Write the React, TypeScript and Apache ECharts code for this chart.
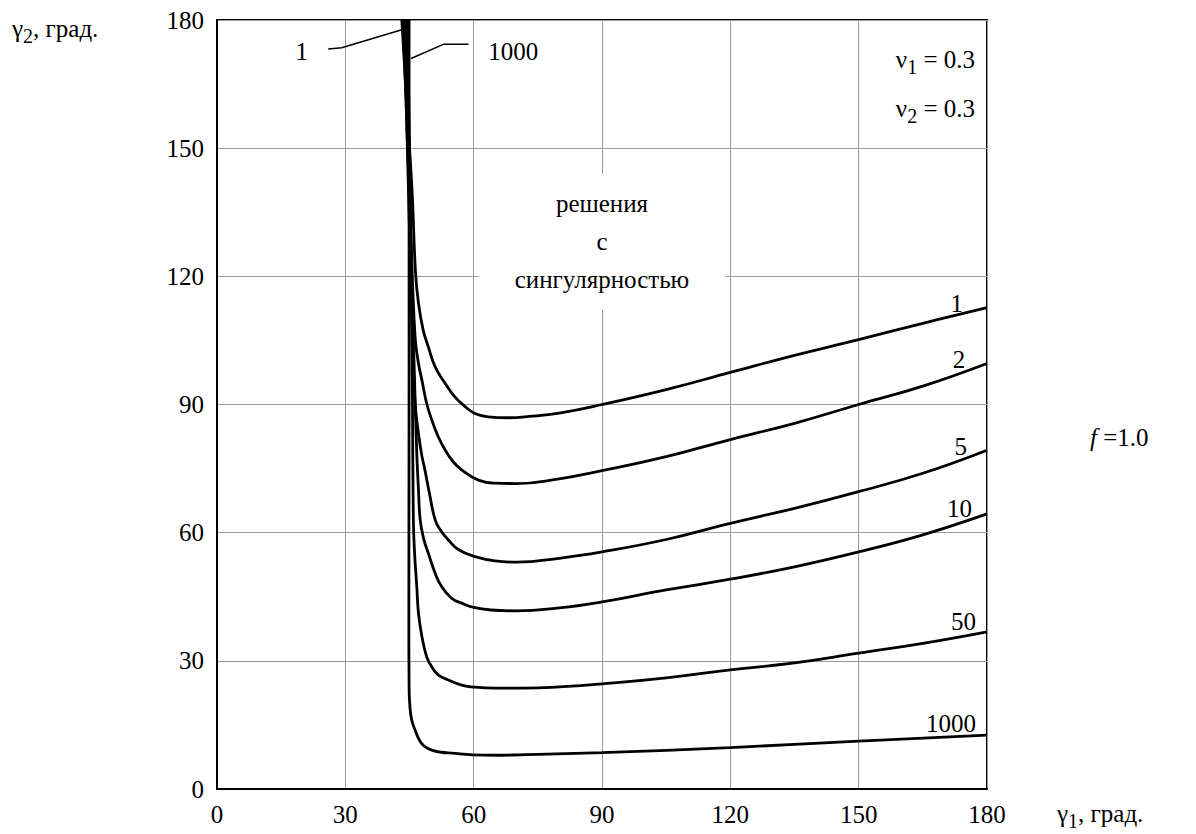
import React, { useEffect, useRef } from "react";
import * as echarts from "echarts";

const xMin = 0;
const xMax = 180;
const yMin = 0;
const yMax = 180;
const tickStep = 30;

const curveNames = ["1", "2", "5", "10", "50", "1000"];

const curve1: number[][] = [
  [43.2, 180], [44.5, 158], [45.6, 140], [46.4, 121], [47.1, 113.7], [48.2, 107.4],
  [49.4, 103.5], [51, 98.8], [53.3, 95.0], [55.6, 91.8], [58, 89.5], [60.3, 87.9],
  [63.4, 87.1], [68, 86.9], [73, 87.2], [80, 88.0], [90, 90.0], [105, 93.5], [120, 97.5],
  [135, 101.5], [150, 105.2], [165, 109], [180, 112.7],
];
const curve2: number[][] = [
  [43.5, 180], [44.4, 155], [45.3, 130], [46.3, 105.9], [47.1, 99.6], [47.9, 95.7],
  [49.0, 90.3], [50.2, 86.4], [51.7, 82.5], [53.3, 79.4], [55.2, 76.6], [57.2, 74.7],
  [61.1, 72.3], [65, 71.6], [70, 71.5], [80, 72.6], [90, 74.5], [105, 77.8], [120, 81.8],
  [135, 85.6], [150, 90.0], [165, 94.3], [180, 99.6],
];
const curve5: number[][] = [
  [43.8, 180], [44.5, 150], [45.3, 120], [45.9, 100], [46.3, 90.3], [47.0, 84],
  [47.8, 78.5], [48.6, 74.7], [49.7, 69], [51, 63], [52.3, 60.5], [54.1, 58.3],
  [56.5, 56.0], [60.3, 54.4], [65, 53.4], [70, 53.1], [80, 54], [90, 55.5], [105, 58.4],
  [120, 62.2], [135, 65.7], [150, 69.6], [165, 73.9], [180, 79.3],
];
const curve10: number[][] = [
  [44.1, 180], [44.8, 150], [45.5, 120], [46.2, 95], [46.7, 78.6], [47.1, 70],
  [47.5, 63], [48.3, 58.6], [49.4, 55.2], [51.0, 50.5], [52.5, 47.4], [54.9, 44.6],
  [57.2, 43.5], [60, 42.5], [64, 41.9], [70, 41.7], [80, 42.4], [90, 43.8], [105, 46.6],
  [120, 49.1], [135, 52.0], [150, 55.5], [165, 59.5], [180, 64.4],
];
const curve50: number[][] = [
  [44.5, 180], [45.0, 150], [45.4, 120], [45.7, 90], [45.9, 63], [46.2, 55], [46.7, 47.4],
  [47.1, 41.1], [47.9, 35.7], [49.0, 31.0], [50.2, 28.6], [51.7, 26.7], [54.1, 25.5],
  [57.2, 24.3], [59.5, 23.9], [65, 23.6], [72, 23.6], [80, 23.9], [90, 24.6], [105, 26.0],
  [120, 27.9], [135, 29.5], [150, 31.8], [165, 34.1], [180, 36.8],
];
const curve1000: number[][] = [
  [44.9, 180], [44.9, 100], [44.85, 40], [44.9, 23.9], [45.1, 19.3], [45.5, 16.2],
  [46.3, 13.8], [47.5, 11.1], [48.6, 9.9], [50.2, 9.1], [52.5, 8.6], [54.9, 8.4],
  [59.8, 8.0], [65, 7.9], [70.8, 8.0], [90, 8.5], [120, 9.7], [150, 11.2], [180, 12.6],
];
const curves = [curve1, curve2, curve5, curve10, curve50, curve1000];

// curve labels: [text, x, y] (right edge, baseline) in data coordinates
const endLabels: [string, number, number][] = [
  ["1", 174.4, 111.7],
  ["2", 174.9, 98.5],
  ["5", 175.3, 78.2],
  ["10", 176.5, 63.7],
  ["50", 177.4, 37.2],
  ["1000", 177.4, 13.3],
];
// leader lines at the top
const leader1: number[][] = [[26.0, 173.2], [29.15, 173.5], [43.2, 177.7]];
const leader1000: number[][] = [[45.35, 171.0], [52.9, 174.3], [58.8, 174.3]];

const FONT = "Liberation Serif";
const FS = 25;
const FS_SUB = 20;

export default function App() {
  const ref = useRef<HTMLDivElement>(null);
  useEffect(() => {
    if (!ref.current) return;
    const chart = echarts.init(ref.current, undefined, { renderer: "svg" });
    const axisCommon = {
      type: "value" as const,
      min: xMin,
      max: xMax,
      interval: tickStep,
      axisLine: { show: true, onZero: false, lineStyle: { color: "#000", width: 2 } },
      axisTick: { show: false },
      splitLine: { show: true, lineStyle: { color: "#9a9a9a", width: 1 } },
      axisLabel: { color: "#000", fontSize: FS, fontFamily: FONT },
    };
    chart.setOption({
      animation: false,
      backgroundColor: "#fff",
      textStyle: { fontFamily: FONT },
      grid: {
        left: 217, top: 20, right: 209, bottom: 45,
        show: true, borderColor: "#000", borderWidth: 2, backgroundColor: "transparent",
      },
      xAxis: { ...axisCommon, axisLabel: { ...axisCommon.axisLabel, margin: 13 } },
      yAxis: { ...axisCommon, min: yMin, max: yMax, axisLabel: { ...axisCommon.axisLabel, margin: 13 } },
      series: [
        ...curves.map((c, i) => ({
          name: curveNames[i],
          type: "line",
          data: c,
          showSymbol: false,
          smooth: 0.45,
          clip: true,
          lineStyle: { color: "#000", width: 2.8 },
          z: 5,
        })),
        ...[leader1, leader1000].map((c) => ({
          type: "line",
          data: c,
          showSymbol: false,
          lineStyle: { color: "#000", width: 1.5 },
          z: 6,
        })),
      ],
    });

    const p = (x: number, y: number) => chart.convertToPixel({ gridIndex: 0 }, [x, y]) as number[];
    const txt = (x: number, y: number, text: string, align = "left", valign = "bottom") => ({
      type: "text",
      x, y,
      z: 10,
      style: { text, fill: "#000", fontFamily: FONT, fontSize: FS, align, verticalAlign: valign },
    });
    const subRich = {
      m: { fontSize: FS, fontFamily: FONT, color: "#000" },
      s: { fontSize: FS_SUB, fontFamily: FONT, color: "#000", padding: [16, 0, 0, 0] },
      i: { fontSize: FS, fontFamily: FONT, color: "#000", fontStyle: "italic" },
    };

    const g: any[] = [];
    endLabels.forEach(([t, x, y]) => {
      const [px, py] = p(x, y);
      g.push(txt(px, py + 4, t, "right", "bottom"));
    });
    {
      const [px, py] = p(21.3, 170.6);
      g.push(txt(px, py + 4, "1", "right", "bottom"));
      const [qx, qy] = p(63.4, 170.6);
      g.push(txt(qx, qy + 4, "1000", "left", "bottom"));
    }
    // text block in the plot (white box interrupts the grid lines)
    {
      const [cx] = p(90, 0);
      g.push({
        type: "text", x: cx, y: 174, z: 8,
        style: {
          text: "решения\nс\nсингулярностью",
          fill: "#000", fontFamily: FONT, fontSize: FS, lineHeight: 38,
          align: "center", verticalAlign: "top", backgroundColor: "#fff", padding: [10, 36, 12, 36],
        },
      });
    }
    const rt = (x: number, y: number, text: string, align: string) => ({
      type: "text", x, y, z: 10,
      style: { text, rich: subRich, align, verticalAlign: "middle", fontFamily: FONT, fontSize: FS },
    });
    g.push(rt(975, 59, "{m|ν}{s|1}{m| = 0.3}", "right"));
    g.push(rt(975, 108, "{m|ν}{s|2}{m| = 0.3}", "right"));
    g.push(rt(12, 28, "{m|γ}{s|2}{m|, град.}", "left"));
    g.push(rt(1057, 813, "{m|γ}{s|1}{m|, град.}", "left"));
    g.push(rt(1090, 437, "{i|f}{m| =1.0}", "left"));
    chart.setOption({ graphic: g });
    return () => chart.dispose();
  }, []);
  return (
    <div
      ref={ref}
      style={{ position: "fixed", left: 0, top: 0, width: 1196, height: 834, background: "#fff" }}
    />
  );
}
